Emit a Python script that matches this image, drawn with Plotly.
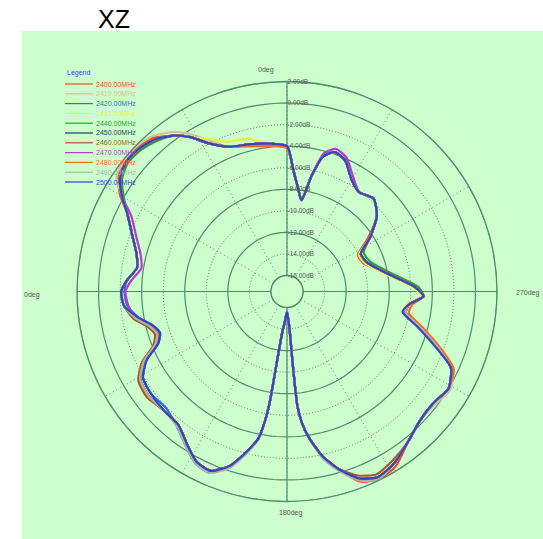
import plotly.graph_objects as go

# ---------------- data ----------------
theta = [0, 6, 14, 22, 28, 32, 36, 41, 46, 51,
         56, 60, 64, 70, 76, 81, 86, 90, 95, 100,
         104, 108, 112, 116, 121, 127, 134, 141, 147, 152,
         157, 162, 166, 169, 170.3, 171.1, 171.8, 173.4, 176, 180,
         183, 184, 184.5, 185.2, 186.5, 188.5, 192, 196, 201, 206,
         212, 219, 226, 233, 239, 245, 250, 255, 260, 264,
         268, 272, 277, 283, 290, 297, 303, 310, 317, 324,
         330, 336, 341, 345, 348, 351, 354, 357, 360]

freqs = ["2400.00MHz", "2410.00MHz", "2420.00MHz", "2430.00MHz", "2440.00MHz",
         "2450.00MHz", "2460.00MHz", "2470.00MHz", "2480.00MHz", "2490.00MHz",
         "2500.00MHz"]

colors = ["#f04a22", "#d2c29a", "#2f6cf0", "#e6f040", "#2ea22e",
          "#243a66", "#a65a24", "#b43cc8", "#ff6a18", "#a9b8a6",
          "#3444c4"]

r2400 = [-4.0, -3.7, -3.4, -3.0, -1.9, -0.6, 0.4, 1.4, 1.8, 1.9,
         1.4, 0.4, -1.0, -2.2, -3.1, -3.4, -2.6, -2.1, -2.3, -3.4,
         -4.5, -5.0, -4.5, -2.7, -1.6, -1.4, -1.6, -1.5, -0.5, 0.4,
         0.6, -0.5, -2.2, -3.6, -5.2, -6.9, -10.7, -13.7, -14.7, -15.6,
         -14.7, -13.7, -10.8, -6.8, -5.2, -3.8, -1.9, -0.4, 1.4, 1.9,
         1.6, 0.4, -0.3, -0.4, 0.0, -0.7, -2.7, -4.7, -6.3, -6.1,
         -4.8, -5.6, -7.2, -8.6, -9.9, -10.1, -8.6, -6.6, -5.7, -6.1,
         -5.5, -4.2, -3.8, -4.5, -6.5, -8.9, -7.8, -6.2, -4.0]

r2410 = [-4.0, -3.7, -3.4, -3.0, -1.5, -0.2, 0.8, 1.6, 1.9, 1.9,
         1.6, 0.2, -1.0, -2.2, -3.1, -3.4, -2.6, -2.1, -2.3, -3.2,
         -4.3, -4.8, -4.3, -2.7, -1.6, -1.4, -1.6, -1.5, -0.5, 0.4,
         0.6, -0.5, -2.2, -3.6, -5.2, -6.9, -10.7, -13.7, -14.7, -15.6,
         -14.7, -13.7, -10.8, -6.8, -5.2, -3.8, -1.9, -0.4, 1.1, 1.7,
         1.3, 0.4, -0.3, -0.2, 0.2, -0.5, -2.7, -4.7, -6.3, -6.1,
         -4.8, -5.6, -7.2, -8.6, -9.6, -9.8, -8.3, -6.6, -5.7, -6.1,
         -5.5, -4.2, -3.8, -4.5, -6.5, -8.9, -7.8, -6.2, -4.0]

r2420 = [-4.0, -3.7, -3.4, -3.0, -1.9, -0.6, 0.4, 1.2, 1.6, 1.7,
         1.2, 0.2, -1.0, -2.2, -3.1, -3.4, -2.6, -2.4, -2.6, -3.5,
         -4.6, -5.1, -4.6, -3.0, -1.9, -1.7, -1.9, -1.3, -0.3, 0.6,
         0.8, -0.5, -2.2, -3.6, -5.2, -6.9, -10.7, -13.7, -14.7, -15.6,
         -14.7, -13.7, -10.8, -6.8, -5.2, -3.8, -1.9, -0.4, 1.1, 1.7,
         1.3, 0.4, -0.3, -0.4, 0.0, -0.7, -2.7, -4.7, -6.3, -6.1,
         -4.8, -5.6, -7.2, -8.6, -9.6, -9.8, -8.3, -6.6, -5.7, -6.1,
         -5.5, -4.2, -3.8, -4.5, -6.5, -8.9, -7.8, -6.2, -4.0]

r2430 = [-4.0, -3.7, -2.9, -2.5, -1.4, -0.6, 0.4, 1.2, 1.6, 1.7,
         1.2, 0.2, -1.0, -2.2, -3.1, -3.4, -2.6, -2.1, -2.3, -3.2,
         -4.3, -4.8, -4.3, -2.7, -1.6, -1.4, -1.6, -1.5, -0.5, 0.4,
         0.6, -0.5, -2.2, -3.6, -5.2, -6.9, -10.7, -13.7, -14.7, -15.6,
         -14.7, -13.7, -10.8, -6.8, -5.2, -3.8, -1.9, -0.4, 1.1, 1.7,
         1.3, 0.4, -0.3, -0.4, 0.0, -0.7, -2.7, -4.7, -6.5, -6.3,
         -5.0, -5.8, -7.4, -8.8, -9.8, -10.0, -8.3, -6.6, -5.7, -6.1,
         -5.5, -4.2, -3.8, -4.5, -6.5, -8.9, -7.8, -6.2, -4.0]

r2440 = [-4.0, -3.7, -3.4, -3.0, -1.9, -0.6, 0.4, 1.0, 1.4, 1.5,
         1.0, 0.0, -1.0, -2.2, -3.1, -3.4, -2.6, -2.1, -2.3, -3.2,
         -4.3, -4.8, -4.3, -2.7, -1.6, -1.4, -1.6, -1.5, -0.5, 0.4,
         0.6, -0.5, -2.2, -3.6, -5.2, -6.9, -10.7, -13.7, -14.7, -15.6,
         -14.7, -13.7, -10.8, -6.8, -5.2, -3.8, -1.9, -0.4, 1.1, 1.7,
         1.3, 0.4, -0.3, -0.4, 0.0, -0.7, -2.7, -4.7, -6.3, -6.1,
         -4.8, -5.3, -6.9, -8.3, -9.3, -9.5, -8.3, -6.6, -5.7, -6.1,
         -5.5, -4.2, -3.8, -4.5, -6.5, -8.9, -7.8, -6.2, -4.0]

r2450 = [-4.0, -3.7, -3.4, -3.0, -1.9, -0.6, 0.4, 1.2, 1.6, 1.7,
         1.2, 0.2, -1.0, -2.2, -3.1, -3.4, -2.6, -2.1, -2.3, -3.2,
         -4.3, -4.8, -4.3, -2.7, -1.6, -1.4, -1.6, -1.5, -0.5, 0.4,
         0.6, -0.5, -2.2, -3.6, -5.2, -6.9, -10.7, -13.7, -14.7, -15.6,
         -14.7, -13.7, -10.8, -6.8, -5.2, -3.8, -1.9, -0.4, 1.1, 1.7,
         1.3, 0.4, -0.3, -0.4, 0.0, -0.7, -2.7, -4.7, -6.3, -6.1,
         -4.8, -5.6, -7.2, -8.6, -9.6, -9.8, -8.3, -6.6, -5.7, -6.1,
         -5.5, -4.2, -3.8, -4.5, -6.5, -8.9, -7.8, -6.2, -4.0]

r2460 = [-4.0, -3.7, -3.4, -3.0, -1.9, -0.6, 0.4, 1.2, 1.6, 1.7,
         1.2, 0.2, -1.0, -2.2, -3.1, -3.4, -2.6, -2.1, -2.3, -3.0,
         -4.1, -4.6, -4.1, -2.5, -1.4, -1.2, -1.6, -1.5, -0.5, 0.4,
         0.6, -0.5, -2.2, -3.6, -5.2, -6.9, -10.7, -13.7, -14.7, -15.6,
         -14.7, -13.7, -10.8, -6.8, -5.2, -3.8, -1.9, -0.4, 0.8, 1.4,
         1.0, 0.4, -0.3, -0.4, 0.0, -0.7, -2.7, -4.7, -6.3, -6.1,
         -4.8, -5.6, -7.2, -8.6, -9.6, -9.8, -8.3, -6.6, -5.7, -6.1,
         -5.5, -4.2, -3.8, -4.5, -6.5, -8.9, -7.8, -6.2, -4.0]

r2470 = [-4.0, -3.7, -3.4, -3.0, -1.9, -0.6, 0.4, 1.2, 1.6, 1.7,
         1.2, 0.2, -1.4, -2.6, -3.5, -3.8, -3.0, -2.5, -2.7, -3.2,
         -4.3, -4.8, -4.3, -2.7, -1.6, -1.4, -1.6, -1.5, -0.5, 0.4,
         0.6, -0.5, -2.2, -3.6, -5.2, -6.9, -10.7, -13.7, -14.7, -15.6,
         -14.7, -13.7, -10.8, -6.8, -5.2, -3.8, -1.9, -0.4, 1.1, 1.7,
         1.3, 0.4, -0.3, -0.4, 0.0, -0.7, -2.7, -4.7, -6.3, -6.1,
         -4.8, -5.6, -7.2, -8.6, -9.6, -9.8, -8.3, -6.6, -5.7, -6.1,
         -5.2, -3.9, -3.5, -4.2, -6.5, -8.9, -7.8, -6.2, -4.0]

r2480 = [-4.2, -3.9, -3.6, -3.0, -1.9, -0.6, 0.4, 1.2, 1.6, 1.7,
         1.2, 0.2, -1.0, -2.2, -3.1, -3.4, -2.6, -2.1, -2.3, -3.2,
         -4.3, -4.8, -4.3, -2.7, -1.6, -1.4, -1.6, -1.5, -0.5, 0.4,
         0.6, -0.5, -2.2, -3.6, -5.2, -6.9, -10.7, -13.7, -14.7, -15.6,
         -14.7, -13.7, -10.8, -6.8, -5.2, -3.8, -1.9, -0.4, 1.1, 1.7,
         1.3, 0.4, -0.3, -0.4, 0.0, -0.4, -2.4, -4.4, -6.0, -5.8,
         -4.8, -5.6, -7.2, -8.6, -9.6, -9.8, -8.3, -6.6, -5.7, -6.1,
         -5.5, -4.2, -3.8, -4.5, -6.5, -8.9, -7.8, -6.2, -4.2]

r2490 = [-4.0, -3.7, -3.4, -3.0, -1.9, -0.6, 0.4, 1.2, 1.6, 1.7,
         1.2, 0.2, -1.0, -2.2, -3.1, -3.4, -2.6, -2.1, -2.3, -3.2,
         -4.3, -4.8, -4.3, -2.7, -1.6, -1.4, -1.6, -1.3, -0.3, 0.6,
         0.8, -0.3, -2.0, -3.6, -5.2, -6.9, -10.7, -13.7, -14.7, -15.6,
         -14.7, -13.7, -10.8, -6.8, -5.2, -3.8, -1.7, -0.2, 1.3, 1.9,
         1.3, 0.4, -0.3, -0.4, 0.0, -0.7, -2.7, -4.7, -6.3, -6.1,
         -4.8, -5.6, -7.2, -8.6, -9.6, -9.8, -8.3, -6.6, -5.7, -6.1,
         -5.5, -4.2, -3.8, -4.5, -6.5, -8.9, -7.8, -6.2, -4.0]

r2500 = [-4.0, -3.7, -3.4, -3.0, -1.9, -0.6, 0.4, 1.2, 1.6, 1.7,
         1.2, 0.2, -1.0, -2.2, -3.1, -3.4, -2.6, -2.1, -2.3, -3.5,
         -4.6, -5.1, -4.6, -3.0, -1.9, -1.7, -1.6, -1.5, -0.5, 0.4,
         0.6, -0.5, -2.2, -3.6, -5.2, -6.9, -10.7, -13.7, -14.7, -15.6,
         -14.7, -13.7, -10.8, -6.8, -5.2, -3.8, -1.9, -0.4, 1.1, 1.7,
         1.3, 0.4, -0.3, -0.4, 0.0, -0.7, -3.0, -5.0, -6.6, -6.1,
         -4.8, -5.6, -7.2, -8.6, -9.6, -9.8, -8.3, -6.6, -5.7, -6.1,
         -5.5, -4.2, -3.8, -4.5, -6.5, -8.9, -7.8, -6.2, -4.0]

series = [r2400, r2410, r2420, r2430, r2440, r2450, r2460, r2470, r2480, r2490, r2500]

ring_db = [2, 0, -2, -4, -6, -8, -10, -12, -14, -16]
ring_labels = ["2.00dB", "0.00dB", "-2.00dB", "-4.00dB", "-6.00dB", "-8.00dB",
               "-10.00dB", "-12.00dB", "-14.00dB", "-16.00dB"]
ring_solid = [True, True, False, True, False, True, False, True, False, True]
angle_labels = ["0deg", "0deg", "180deg", "270deg"]

# ---------------- style / layout ----------------
W, H = 543, 539
GRID = "#4e8c6c"
BG = "#ccffcc"
CX, CY, R = 287, 291.5, 210

fig = go.Figure()

ring_theta = list(range(0, 361, 2))
for v, solid in zip(ring_db, ring_solid):
    fig.add_trace(go.Scatterpolar(
        r=[v] * len(ring_theta), theta=ring_theta, mode="lines",
        line=dict(color=GRID, width=1.2 if solid else 1.0,
                  dash="solid" if solid else "1px,2px"),
        hoverinfo="skip", showlegend=False))

for a in [0, 90, 180, 270]:
    fig.add_trace(go.Scatterpolar(
        r=[ring_db[-1], ring_db[0]], theta=[a, a], mode="lines",
        line=dict(color=GRID, width=1.2), hoverinfo="skip", showlegend=False))

for name, col, rv in zip(freqs, colors, series):
    fig.add_trace(go.Scatterpolar(
        r=rv, theta=theta, mode="lines", name=name,
        line=dict(color=col, width=2.2, shape="spline", smoothing=0.6),
        showlegend=False))

def px(x):
    return x / W

def py(y):
    return 1 - y / H

shapes = [dict(type="rect", xref="paper", yref="paper",
               x0=px(22), x1=1, y0=0, y1=py(31),
               fillcolor=BG, line=dict(width=0), layer="below")]

annotations = []
# legend
annotations.append(dict(text="Legend", x=px(65), y=py(73), xref="paper", yref="paper",
                        xanchor="left", yanchor="middle", showarrow=False,
                        font=dict(size=7, color="#3050c8", family="Liberation Sans")))
for i, (name, col) in enumerate(zip(freqs, colors)):
    yy = 84 + 9.8 * i
    shapes.append(dict(type="line", xref="paper", yref="paper",
                       x0=px(65), x1=px(93), y0=py(yy), y1=py(yy),
                       line=dict(color=col, width=1.2)))
    annotations.append(dict(text=name, x=px(94), y=py(yy), xref="paper", yref="paper",
                            xanchor="left", yanchor="middle", showarrow=False,
                            font=dict(size=7, color=col, family="Liberation Sans")))

# angular labels
ang_pos = [(266, 70, "center"), (22, 295, "left"), (290, 513, "center"), (541, 293, "right")]
for txt, (xx, yy, anc) in zip(angle_labels, ang_pos):
    annotations.append(dict(text=txt, x=px(xx), y=py(yy), xref="paper", yref="paper",
                            xanchor=anc, yanchor="middle", showarrow=False,
                            font=dict(size=7, color="#555555", family="Liberation Sans")))

fig.update_layout(
    width=W, height=H,
    margin=dict(l=0, r=0, t=0, b=0),
    paper_bgcolor="white",
    title=dict(text="XZ", x=px(114), xanchor="center", y=py(19), yanchor="middle",
               font=dict(size=25, color="black", family="Liberation Sans")),
    polar=dict(
        domain=dict(x=[px(CX - R), px(CX + R)], y=[1 - (CY + R) / H, 1 - (CY - R) / H]),
        bgcolor="rgba(0,0,0,0)",
        hole=16 / R,
        radialaxis=dict(range=[-16, 2], angle=90, tickangle=90,
                        tickvals=ring_db, ticktext=ring_labels,
                        tickfont=dict(size=6.5, color="#555555", family="Liberation Sans"),
                        showgrid=False, showline=False, ticks=""),
        angularaxis=dict(rotation=90, direction="counterclockwise", dtick=30,
                         showgrid=True, gridcolor=GRID, griddash="1px,3px", gridwidth=1,
                         showline=True, linecolor=GRID, linewidth=1.3,
                         showticklabels=False, ticks=""),
    ),
    shapes=shapes,
    annotations=annotations,
    showlegend=False,
)

fig.write_html("out.html",
               config={"displayModeBar": False},
               post_script="document.body.style.margin='0px';document.body.style.overflow='hidden';")
